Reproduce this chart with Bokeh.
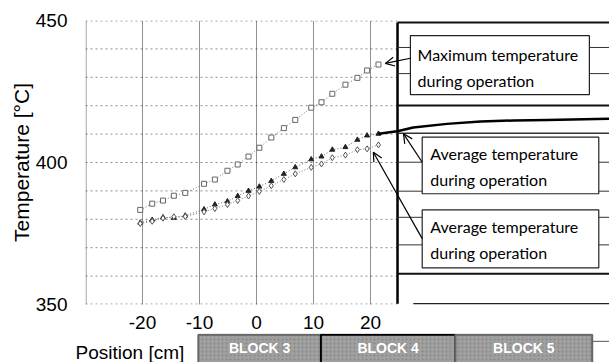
from bokeh.plotting import figure
from bokeh.layouts import column
from bokeh.models import Range1d, FixedTicker, Arrow, OpenHead
from bokeh.core.properties import value
from bokeh.embed import file_html
from bokeh.resources import INLINE

# ---------------- data ----------------
position_cm = [-20.4, -18.3, -16.4, -14.5, -12.5, -9.2, -7.3, -5.1, -3.3, -1.4, 0.5,
               2.6, 4.8, 6.8, 9.6, 11.4, 13.3, 15.6, 17.7, 19.4, 21.4]
max_temp = [383.3, 385.5, 386.6, 388.3, 389.3, 392.5, 394.0, 397.1, 399.3, 402.1, 405.2,
            408.8, 412.1, 415.0, 419.3, 421.2, 424.2, 427.4, 429.8, 432.4, 434.5]
avg_temp_a = [378.8, 379.8, 380.7, 380.5, 381.3, 383.5, 385.2, 386.3, 388.2, 390.0, 391.5,
              393.5, 396.0, 398.3, 401.1, 402.1, 404.5, 405.4, 408.0, 409.5, 410.1]
avg_temp_b = [378.5, 379.3, 380.4, 380.9, 381.0, 382.6, 383.8, 385.2, 386.6, 388.2, 389.8,
              391.8, 394.0, 396.0, 398.3, 399.5, 401.7, 402.6, 404.5, 404.8, 406.2]
trend_x = [21.4, 24.7, 27.5, 33.4, 39.3, 45.1, 51.0, 61.9]
trend_y = [410.1, 411.0, 412.3, 413.6, 414.4, 414.8, 415.0, 415.4]

x_ticks = [-20, -10, 0, 10, 20]
x_tick_labels = {-20: "-20", -10: "-10", 0: "0", 10: "10", 20: "20"}
y_ticks = [350, 400, 450]
grid_x = [-29.9, -20, -10, 0, 10, 20]
grid_y = [350.15, 360, 370, 380, 390, 400, 410, 420, 430, 440, 449.85]

block_names = ["BLOCK 3", "BLOCK 4", "BLOCK 5"]
block_start = [-10.2, 11.3, 34.9]
block_end = [11.3, 34.9, 58.9]

box_line1 = ["Maximum temperature", "Average temperature", "Average temperature"]
box_line2 = ["during operation", "during operation", "during operation"]

# ---------------- schematic geometry (data units) ----------------
X0, X1 = -30.0, 61.93
XB0 = -44.91                   # left edge of the strip below (page x = 0)
XW = 24.74                     # wall of the schematic
box_left = [27.0, 29.07, 29.07]
box_right = [58.4, 60.05, 60.05]
box_top = [444.7, 408.9, 383.3]
box_bottom = [423.9, 389.0, 362.9]
stub_y = [440.5, 431.3, 400.1, 389.9, 380.7, 371.0]
stub_box = [0, 0, 1, 1, 2, 2]
thick_y = [449.3, 420.1, 360.8]
text_x = [28.25, 30.5, 30.5]
text_y1 = [438.0, 403.2, 377.5]
text_y2 = [429.0, 394.0, 368.3]
arrows = [((27.0, 436.7), (22.6, 434.9)),
          ((29.07, 400.1), (25.8, 410.1)),
          ((29.07, 373.2), (20.5, 403.6))]

FONT = "Liberation Sans"

# ---------------- main figure ----------------
p = figure(width=609, height=333, output_backend="svg", toolbar_location=None,
           x_range=Range1d(X0, X1), y_range=Range1d(350, 450),
           min_border_left=85, min_border_right=0, min_border_top=20, min_border_bottom=29)
p.frame_align = False
p.outline_line_color = None
p.background_fill_color = "white"
p.border_fill_color = "white"
p.grid.visible = False

p.xaxis.ticker = FixedTicker(ticks=x_ticks)
p.xaxis.major_label_overrides = x_tick_labels
p.yaxis.ticker = FixedTicker(ticks=y_ticks)
for ax in (p.xaxis[0], p.yaxis[0]):
    ax.axis_line_color = None
    ax.major_tick_line_color = None
    ax.minor_tick_line_color = None
    ax.major_label_text_font = FONT
    ax.major_label_text_font_size = "19px"
    ax.major_label_text_color = "black"
p.xaxis.major_label_standoff = 5
p.yaxis.major_label_standoff = 12
p.yaxis.axis_label = "Temperature [°C]"
p.yaxis.axis_label_text_font = FONT
p.yaxis.axis_label_text_font_size = "21px"
p.yaxis.axis_label_text_font_style = "normal"
p.yaxis.axis_label_text_color = "black"
p.yaxis.axis_label_standoff = 0

# grid (dotted, left part only)
p.segment(x0=[X0] * len(grid_y), y0=grid_y, x1=[XW] * len(grid_y), y1=grid_y,
          line_color="#8a8a8a", line_dash="2 3", line_width=1)
p.segment(x0=grid_x, y0=[350] * len(grid_x), x1=grid_x, y1=[450] * len(grid_x),
          line_color="#222222", line_dash="1 1", line_width=1)

# series
p.line(position_cm, max_temp, line_color="#777777", line_dash="1 2", line_width=1)
p.scatter(position_cm, max_temp, marker="square", size=5, fill_color="white",
          line_color="#666666", line_width=1)
p.line(position_cm, avg_temp_a, line_color="#666666", line_dash="1 2", line_width=1)
p.scatter(position_cm, avg_temp_a, marker="triangle", size=5, fill_color="#222222",
          line_color="#222222")
p.line(position_cm, avg_temp_b, line_color="#777777", line_dash="1 2", line_width=1)
p.scatter(position_cm, avg_temp_b, marker="diamond", size=6, fill_color="white",
          line_color="#555555", line_width=1)

# schematic
p.segment(x0=[XW], y0=[350.3], x1=[XW], y1=[449.3], line_color="black", line_width=2.5)
p.segment(x0=[XW] * len(thick_y), y0=thick_y, x1=[X1] * len(thick_y), y1=thick_y,
          line_color="#111111", line_width=2)
p.segment(x0=[XW], y0=[410.3], x1=[X1], y1=[410.3], line_color="#333333", line_width=1.5)
p.segment(x0=[27.5], y0=[350.3], x1=[X1], y1=[350.3], line_color="#222222", line_width=1.5)
p.segment(x0=[XW] * len(stub_y), y0=stub_y, x1=[box_left[i] for i in stub_box], y1=stub_y,
          line_color="#333333", line_width=1)
p.segment(x0=[box_right[i] for i in stub_box], y0=stub_y, x1=[X1] * len(stub_y), y1=stub_y,
          line_color="#333333", line_width=1)
p.line(trend_x, trend_y, line_color="black", line_width=2.5)
p.quad(left=box_left, right=box_right, top=box_top, bottom=box_bottom,
       fill_color="white", line_color="#222222", line_width=1.2)
p.text(x=text_x, y=text_y1, text=box_line1, text_font=value("Lato"),
       text_font_size="16px", text_baseline="middle", text_color="black")
p.text(x=text_x, y=text_y2, text=box_line2, text_font=value("Lato"),
       text_font_size="16px", text_baseline="middle", text_color="black")
for (xs, ys), (xe, ye) in arrows:
    p.add_layout(Arrow(end=OpenHead(size=9, line_width=1.2, line_color="black"),
                       x_start=xs, y_start=ys, x_end=xe, y_end=ye,
                       line_color="black", line_width=1.2))

# ---------------- block strip (full-width frame, same cm scale) ----------------
q = figure(width=609, height=29, output_backend="svg", toolbar_location=None,
           x_range=Range1d(XB0, X1), y_range=Range1d(0, 1),
           x_axis_type=None, y_axis_type=None,
           min_border_left=0, min_border_right=0, min_border_top=0, min_border_bottom=0)
q.frame_align = False
q.outline_line_color = None
q.grid.visible = False
q.background_fill_color = "white"
q.border_fill_color = "white"
q.quad(left=block_start, right=block_end, top=[0.96] * 3, bottom=[-1.0] * 3,
       fill_color="#a0a0a0", line_color=["#666666", "black", "#666666"], line_width=2,
       hatch_pattern="dot", hatch_color="#858585", hatch_scale=4)
q.text(x=[(a + b) / 2 for a, b in zip(block_start, block_end)], y=[0.5] * 3, text=block_names,
       text_font=value(FONT), text_font_size="14px", text_font_style="bold",
       text_color="white", text_align="center", text_baseline="middle")
q.text(x=[-31.75], y=[0.36], text=["Position [cm]"], text_font=value(FONT),
       text_font_size="19px", text_color="black", text_baseline="middle")
q.segment(x0=[block_end[-1]], y0=[0.73], x1=[X1], y1=[0.73], line_color="#555555",
          line_width=1)

layout = column(p, q, spacing=0)
open("out.html", "w").write(file_html(layout, INLINE))
